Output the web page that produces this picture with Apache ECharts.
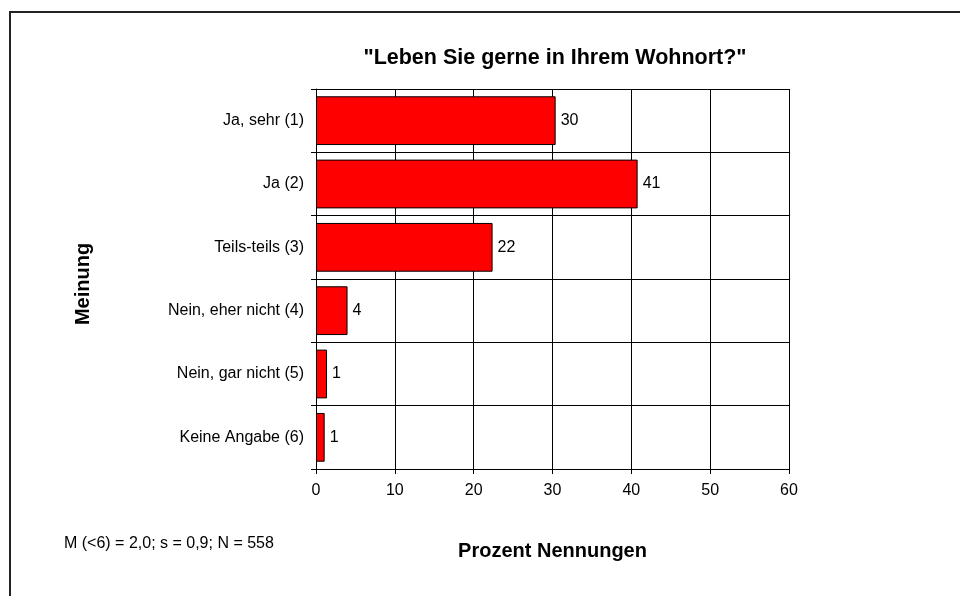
<!DOCTYPE html>
<html>
<head>
<meta charset="utf-8">
<script src="https://cdn.jsdelivr.net/npm/echarts@6/dist/echarts.min.js"></script>
<style>
  html, body { margin: 0; padding: 0; background: #fff; }
  #chart { width: 960px; height: 596px; }
</style>
</head>
<body>
<div id="chart"></div>
<script>
// Antworten (von oben nach unten)
const categories = ['Ja, sehr (1)', 'Ja (2)', 'Teils-teils (3)', 'Nein, eher nicht (4)', 'Nein, gar nicht (5)', 'Keine Angabe (6)'];
// Prozent Nennungen
const percentValues = [30.4, 40.8, 22.4, 4.0, 1.4, 1.1];
const xTicks = [0, 10, 20, 30, 40, 50, 60];

const font = 'Liberation Sans, Arial, sans-serif';
const chart = echarts.init(document.getElementById('chart'));

chart.setOption({
  animation: false,
  backgroundColor: '#fff',
  grid: { left: 316, right: 171, top: 89, bottom: 127 },
  graphic: [
    {
      type: 'rect',
      shape: { x: 10, y: 12, width: 2000, height: 2000 },
      style: { fill: 'none', stroke: '#222', lineWidth: 2 }
    },
    {
      type: 'text',
      x: 555, y: 58,
      style: {
        text: '"Leben Sie gerne in Ihrem Wohnort?"',
        font: 'bold 21.5px ' + font,
        fill: '#000', align: 'center', verticalAlign: 'middle'
      }
    },
    {
      type: 'text',
      x: 64, y: 544,
      style: {
        text: 'M (<6) = 2,0; s = 0,9; N = 558',
        font: '16px ' + font,
        fill: '#000', align: 'left', verticalAlign: 'middle'
      }
    },
    {
      type: 'text',
      x: 83, y: 284, rotation: Math.PI / 2,
      style: {
        text: 'Meinung',
        font: 'bold 20px ' + font,
        fill: '#000', align: 'center', verticalAlign: 'middle'
      }
    }
  ],
  xAxis: {
    type: 'value',
    min: xTicks[0],
    max: xTicks[xTicks.length - 1],
    interval: 10,
    name: 'Prozent Nennungen',
    nameLocation: 'middle',
    nameGap: 72,
    nameTextStyle: { color: '#000', fontSize: 20, fontWeight: 'bold', fontFamily: font },
    axisLine: { show: true, lineStyle: { color: '#000', width: 1 } },
    axisTick: { show: true, length: 5, lineStyle: { color: '#000' } },
    axisLabel: { color: '#000', fontSize: 16, fontFamily: font, margin: 14 },
    splitLine: { show: true, lineStyle: { color: '#000', width: 1 } }
  },
  yAxis: {
    type: 'category',
    data: categories,
    inverse: true,
    axisLine: { show: true, lineStyle: { color: '#000', width: 1 } },
    axisTick: { show: true, length: 5, lineStyle: { color: '#000' } },
    axisLabel: { color: '#000', fontSize: 16, fontFamily: font, margin: 12 },
    splitLine: { show: true, lineStyle: { color: '#000', width: 1 } }
  },
  series: [
    {
      type: 'bar',
      data: percentValues,
      barCategoryGap: '23%',
      itemStyle: { color: '#ff0000', borderColor: '#000', borderWidth: 1 },
      label: {
        show: true,
        position: 'right',
        distance: 5,
        color: '#000',
        fontSize: 16,
        fontFamily: font,
        formatter: p => Math.round(p.value)
      }
    }
  ]
});
</script>
</body>
</html>
